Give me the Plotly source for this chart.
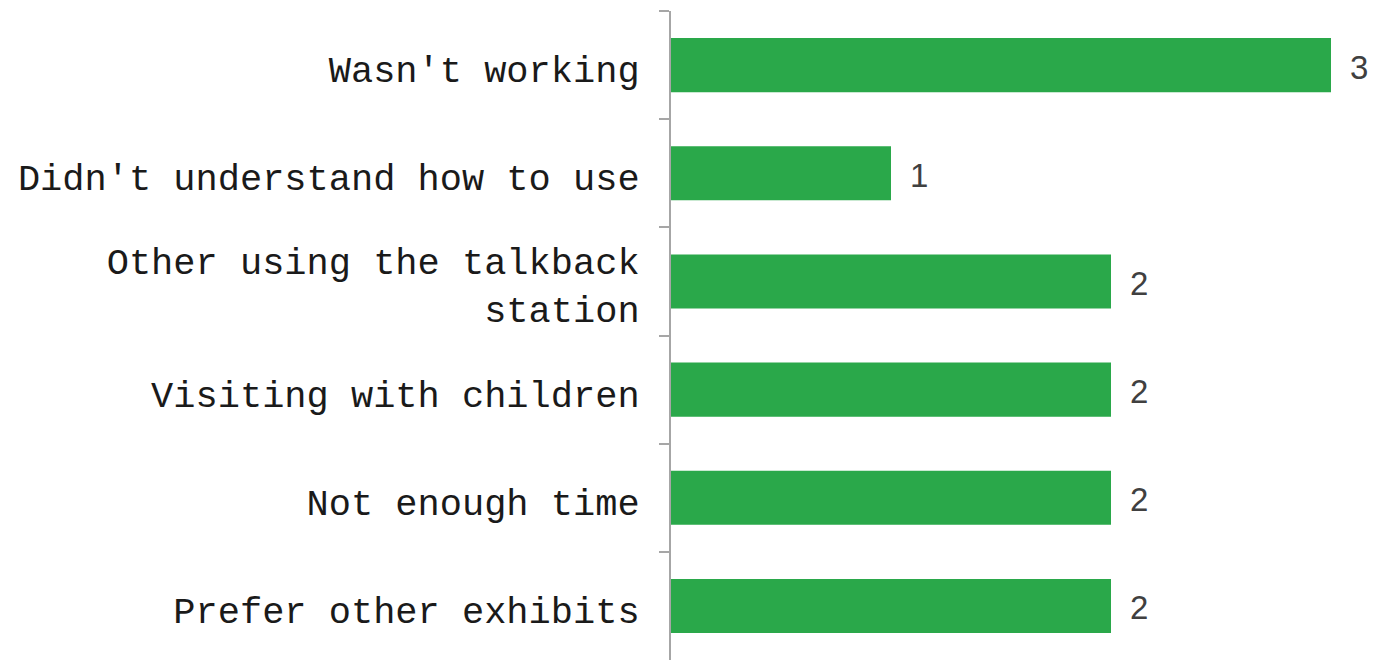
import plotly.graph_objects as go

# Reasons visitors gave for not using the talkback station
categories = [
    "Wasn't working",
    "Didn't understand how to use",
    "Other using the talkback<br>station",
    "Visiting with children",
    "Not enough time",
    "Prefer other exhibits",
]
counts = [3, 1, 2, 2, 2, 2]

BAR_COLOR = "#2aa84a"
AXIS_COLOR = "#a6a6a6"

fig = go.Figure()

fig.add_trace(go.Bar(
    x=counts,
    y=categories,
    orientation="h",
    width=0.5,
    marker=dict(color=BAR_COLOR, line=dict(width=0)),
    hoverinfo="skip",
))

# Value labels just past the end of each bar
for cat, val in zip(categories, counts):
    fig.add_annotation(
        x=val, y=cat, text=str(val),
        xanchor="left", yanchor="middle", xshift=17, yshift=-2,
        showarrow=False,
        font=dict(family="Liberation Sans, Arial, sans-serif", size=33, color="#404040"),
    )

fig.update_layout(
    width=1374, height=660,
    margin=dict(l=671, r=43, t=11, b=0),
    paper_bgcolor="white",
    plot_bgcolor="white",
    showlegend=False,
    bargap=0.5,
    xaxis=dict(
        range=[0, 3],
        visible=False,
        showgrid=False,
        zeroline=False,
    ),
    yaxis=dict(
        type="category",
        categoryorder="array",
        categoryarray=categories,
        autorange="reversed",
        showline=True,
        linecolor=AXIS_COLOR,
        linewidth=2,
        ticks="outside",
        tickson="boundaries",
        ticklen=10,
        tickwidth=2,
        tickcolor=AXIS_COLOR,
        ticklabelstandoff=22,
        ticklabelshift=-4,
        showgrid=False,
        tickfont=dict(family="Liberation Mono, Courier New, monospace", size=37, color="#1a1a1a"),
    ),
)

fig.write_html("out.html")
